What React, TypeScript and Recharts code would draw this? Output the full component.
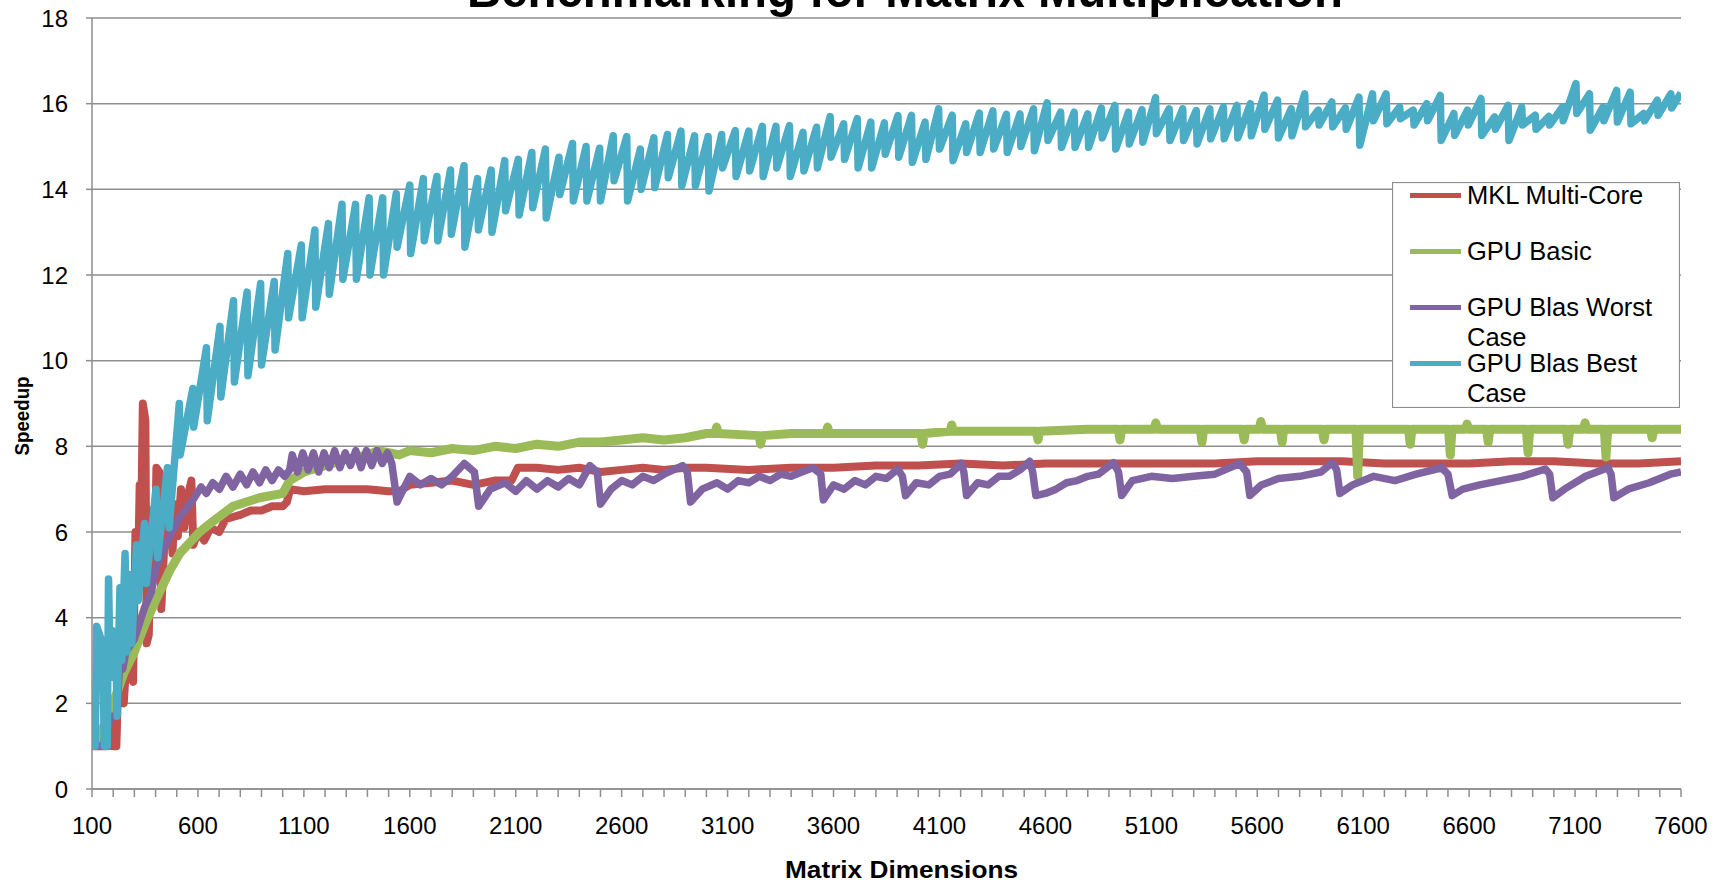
import { LineChart, Line, XAxis, YAxis, CartesianGrid, Legend, Label } from "recharts";

const FONT = '"Liberation Sans", Arial, sans-serif';
const GRID = "#8e8e8e";

const MKL_COLOR = "#C0504D";
const BASIC_COLOR = "#9BBB59";
const WORST_COLOR = "#8064A2";
const BEST_COLOR = "#4BACC6";

// [matrix dimension, speedup]
const mklMultiCore: [number, number][] = [
  [100, 1.0], [176, 1.0], [190, 1.6], [200, 1.0], [215, 1.0], [222, 2.2], [250, 2.0], [262, 3.0], [270, 5.0], [282, 2.6],
  [294, 2.5], [305, 6.0], [318, 5.2], [325, 7.1], [333, 6.5], [340, 9.0], [352, 8.6], [358, 3.4], [368, 3.6], [380, 6.5],
  [395, 5.0], [404, 7.5], [418, 7.4], [427, 4.2], [443, 5.9], [451, 7.05], [467, 6.6], [480, 5.5], [490, 6.65], [505, 5.9],
  [520, 7.0], [535, 6.1], [550, 6.8], [569, 7.2], [578, 5.7], [600, 6.0], [630, 5.8], [660, 6.1], [700, 6.0], [730, 6.3],
  [765, 6.35], [800, 6.4], [850, 6.5], [900, 6.5], [950, 6.6], [1000, 6.6], [1020, 6.7], [1035, 7.0], [1100, 6.95], [1200, 7.0],
  [1300, 7.0], [1400, 7.0], [1500, 6.95], [1550, 6.95], [1600, 7.1], [1700, 7.15], [1800, 7.2], [1900, 7.1], [2000, 7.2], [2080, 7.2],
  [2110, 7.5], [2200, 7.5], [2300, 7.45], [2400, 7.5], [2500, 7.4], [2600, 7.45], [2700, 7.5], [2800, 7.45], [2900, 7.5], [3000, 7.5],
  [3200, 7.45], [3400, 7.5], [3600, 7.5], [3800, 7.55], [4000, 7.55], [4200, 7.6], [4400, 7.55], [4600, 7.6], [4800, 7.6], [5000, 7.6],
  [5200, 7.6], [5400, 7.6], [5600, 7.65], [5800, 7.65], [6000, 7.65], [6200, 7.6], [6400, 7.6], [6600, 7.6], [6800, 7.65], [7000, 7.65],
  [7200, 7.6], [7400, 7.6], [7600, 7.65],
];

const gpuBasic: [number, number][] = [
  [100, 1.0], [150, 1.4], [200, 2.0], [250, 2.7], [300, 3.2], [350, 3.85], [400, 4.4], [467, 5.1], [514, 5.5], [561, 5.75],
  [608, 6.0], [671, 6.25], [765, 6.6], [891, 6.8], [1000, 6.9], [1033, 7.2], [1100, 7.4], [1200, 7.55], [1300, 7.7], [1400, 7.8],
  [1450, 7.9], [1500, 7.85], [1550, 7.8], [1600, 7.9], [1700, 7.85], [1800, 7.95], [1900, 7.9], [2000, 8.0], [2100, 7.95], [2200, 8.05],
  [2300, 8.0], [2400, 8.1], [2500, 8.1], [2600, 8.15], [2700, 8.2], [2800, 8.15], [2900, 8.2], [3000, 8.3], [3040, 8.3], [3048, 8.45],
  [3056, 8.3], [3248, 8.25], [3256, 8.05], [3264, 8.25], [3400, 8.3], [3564, 8.3], [3572, 8.45], [3580, 8.3], [3800, 8.3], [4012, 8.3],
  [4020, 8.05], [4028, 8.3], [4150, 8.35], [4158, 8.5], [4166, 8.35], [4400, 8.35], [4557, 8.35], [4565, 8.15], [4573, 8.35], [4800, 8.4],
  [4944, 8.4], [4952, 8.15], [4960, 8.4], [5113, 8.4], [5121, 8.55], [5129, 8.4], [5331, 8.4], [5339, 8.1], [5347, 8.4], [5530, 8.4],
  [5538, 8.15], [5546, 8.4], [5609, 8.4], [5617, 8.58], [5625, 8.4], [5709, 8.4], [5717, 8.1], [5725, 8.4], [5907, 8.4], [5915, 8.15],
  [5923, 8.4], [6066, 8.4], [6074, 7.3], [6082, 8.4], [6314, 8.4], [6322, 8.05], [6330, 8.4], [6503, 8.4], [6511, 7.8], [6519, 8.4],
  [6582, 8.4], [6590, 8.52], [6598, 8.4], [6682, 8.4], [6690, 8.1], [6698, 8.4], [6870, 8.4], [6878, 7.85], [6886, 8.4], [7059, 8.4],
  [7067, 8.05], [7075, 8.4], [7139, 8.4], [7147, 8.55], [7155, 8.4], [7238, 8.4], [7246, 7.75], [7254, 8.4], [7456, 8.4], [7464, 8.2],
  [7472, 8.4], [7600, 8.4],
];

const gpuBlasWorst: [number, number][] = [
  [100, 1.0], [150, 1.0], [190, 1.7], [215, 1.7], [231, 2.9], [245, 2.8], [260, 3.2], [300, 3.5], [349, 4.25], [380, 4.6],
  [404, 5.2], [467, 5.9], [514, 6.35], [577, 6.75], [615, 7.05], [640, 6.9], [670, 7.15], [702, 7.0], [733, 7.3], [765, 7.05],
  [800, 7.35], [830, 7.1], [860, 7.4], [891, 7.15], [920, 7.45], [950, 7.2], [980, 7.45], [1010, 7.3], [1033, 7.45], [1045, 7.8],
  [1070, 7.4], [1095, 7.85], [1120, 7.45], [1145, 7.85], [1170, 7.4], [1195, 7.85], [1220, 7.5], [1245, 7.9], [1270, 7.5], [1295, 7.85],
  [1320, 7.55], [1345, 7.9], [1370, 7.5], [1395, 7.9], [1420, 7.55], [1445, 7.9], [1470, 7.6], [1495, 7.85], [1515, 7.6], [1540, 6.7],
  [1600, 7.3], [1650, 7.1], [1700, 7.25], [1750, 7.1], [1800, 7.3], [1857, 7.6], [1905, 7.4], [1925, 6.6],
  [1980, 7.0], [2050, 7.15], [2100, 6.95], [2150, 7.2], [2200, 7.0], [2250, 7.2], [2300, 7.05], [2350, 7.25], [2400, 7.1], [2450, 7.55], [2485, 7.4], [2500, 6.65],
  [2550, 7.0], [2600, 7.2], [2650, 7.1], [2700, 7.3], [2750, 7.2], [2800, 7.35], [2888, 7.55], [2910, 7.4], [2925, 6.7],
  [2980, 7.0], [3050, 7.15], [3100, 7.0], [3150, 7.2], [3200, 7.15], [3250, 7.3], [3300, 7.2], [3350, 7.35], [3400, 7.3], [3450, 7.4], [3503, 7.5], [3540, 7.35], [3552, 6.75],
  [3600, 7.1], [3650, 7.0], [3700, 7.2], [3750, 7.1], [3800, 7.3], [3850, 7.25], [3903, 7.47], [3925, 7.3], [3940, 6.85],
  [3990, 7.15], [4050, 7.1], [4100, 7.3], [4150, 7.35], [4203, 7.6], [4215, 7.4], [4228, 6.85],
  [4280, 7.15], [4330, 7.1], [4380, 7.3], [4430, 7.3], [4480, 7.45], [4526, 7.65], [4540, 7.4], [4555, 6.85],
  [4600, 6.9], [4650, 7.0], [4700, 7.15], [4750, 7.2], [4800, 7.3], [4850, 7.35], [4922, 7.62], [4945, 7.4], [4960, 6.85],
  [5010, 7.2], [5100, 7.3], [5200, 7.25], [5300, 7.3], [5400, 7.35], [5516, 7.6], [5550, 7.4], [5565, 6.85],
  [5620, 7.1], [5700, 7.25], [5800, 7.3], [5900, 7.4], [5955, 7.62], [5975, 7.45], [5990, 6.9],
  [6050, 7.1], [6150, 7.3], [6250, 7.2], [6350, 7.35], [6470, 7.5], [6500, 7.35], [6520, 6.85],
  [6570, 7.0], [6650, 7.1], [6750, 7.2], [6850, 7.3], [6960, 7.47], [6980, 7.35], [6995, 6.8],
  [7050, 7.0], [7150, 7.3], [7255, 7.5], [7270, 7.35], [7283, 6.8],
  [7350, 7.0], [7450, 7.15], [7550, 7.35], [7600, 7.4],
];

// best case: irregular start, then one sawtooth per 64-wide block from 512 on
const gpuBlasBestStart: [number, number][] = [
  [100, 1.0], [115, 1.0], [122, 3.8], [150, 3.4], [158, 1.0], [172, 1.0], [178, 4.9], [186, 2.6], [196, 3.7], [212, 3.6],
  [218, 1.7], [232, 4.7], [240, 3.0], [256, 5.5], [264, 3.2], [280, 5.0], [288, 3.4], [310, 5.7], [318, 4.4], [348, 6.2],
  [356, 4.8], [402, 7.0], [410, 5.4], [456, 7.5], [464, 6.1],
];
const bestPeaks = [
  9.0, 9.35, 10.3, 10.8, 11.4, 11.6, 11.8, 11.85,
  12.5, 12.7, 13.05, 13.2, 13.65, 13.65, 13.8, 13.8,
  13.9, 14.1, 14.25, 14.3, 14.45, 14.55, 14.25, 14.45,
  14.67, 14.7, 14.86, 14.94, 14.75, 15.07, 15.0, 14.96,
  15.25, 15.23, 14.94, 15.2, 15.28, 15.36, 15.25, 15.23,
  15.28, 15.37, 15.36, 15.47, 15.47, 15.49, 15.33, 15.45,
  15.7, 15.53, 15.65, 15.57, 15.55, 15.72, 15.73, 15.57,
  15.88, 15.73, 15.53, 15.78, 15.83, 15.75, 15.76, 15.88,
  16.02, 15.8, 15.8, 15.76, 15.9, 15.96, 15.8, 15.86,
  16.14, 15.88, 15.88, 15.84, 15.88, 15.92, 15.96, 16.0,
  16.2, 16.08, 15.88, 16.23, 15.85, 16.04, 15.9, 16.15,
  16.23, 16.23, 15.92, 15.85, 16.0, 16.19, 15.77, 15.85,
  16.12, 15.69, 15.96, 15.92, 15.73, 15.7, 15.92, 16.47,
  16.23, 15.92, 16.31, 16.27, 15.77, 16.08, 16.23,
];
const bestTroughs = [
  7.8, 8.45, 8.6, 9.15, 9.5, 9.65, 9.9, 10.25,
  11.0, 11.0, 11.25, 11.55, 11.9, 11.9, 12.0, 12.0,
  12.65, 12.5, 12.8, 12.8, 12.95, 12.65, 13.05, 13.0,
  13.5, 13.4, 13.57, 13.33, 13.88, 13.73, 13.73, 13.73,
  14.2, 13.73, 14.0, 14.04, 14.27, 14.08, 14.08, 13.96,
  14.5, 14.3, 14.43, 14.3, 14.5, 14.3, 14.43, 14.5,
  14.75, 14.7, 14.5, 14.5, 14.82, 14.75, 14.63, 14.7,
  14.94, 14.67, 14.86, 14.86, 14.94, 14.86, 15.0, 14.9,
  15.14, 14.98, 14.98, 14.98, 15.2, 14.94, 15.06, 15.1,
  15.3, 15.14, 15.14, 15.06, 15.18, 15.18, 15.2, 15.25,
  15.4, 15.2, 15.25, 15.46, 15.5, 15.46, 15.4, 15.03,
  15.6, 15.53, 15.65, 15.5, 15.6, 15.14, 15.26, 15.5,
  15.26, 15.4, 15.14, 15.5, 15.4, 15.5, 15.6, 15.77,
  15.38, 15.6, 15.57, 15.53, 15.6, 15.73, 15.9,
];
const bestToothDims = bestPeaks.map((_, i) => 512 + 64 * i);
const bestEnd: [number, number] = [7600, 16.25];

const yTicks = [0, 2, 4, 6, 8, 10, 12, 14, 16, 18];
const xLabelEvery = 500;
const xTicks = Array.from({ length: 76 }, (_, i) => 100 + 100 * i);

const toRows = (pairs: [number, number][]) => pairs.map(([x, y]) => ({ x, y }));
const mklData = toRows(mklMultiCore);
const basicData = toRows(gpuBasic);
const worstData = toRows(gpuBlasWorst);
const bestData = [
  ...toRows(gpuBlasBestStart),
  ...bestToothDims.flatMap((x, i) => [
    { x, y: bestPeaks[i] },
    { x: x + 4, y: bestTroughs[i] },
  ]),
  { x: bestEnd[0], y: bestEnd[1] },
];

const legendRows = [
  { label: ["MKL Multi-Core"], color: MKL_COLOR },
  { label: ["GPU Basic"], color: BASIC_COLOR },
  { label: ["GPU Blas Worst", "Case"], color: WORST_COLOR },
  { label: ["GPU Blas Best", "Case"], color: BEST_COLOR },
];

function LegendBox() {
  return (
    <svg width={288} height={226} style={{ display: "block" }}>
      <rect x={0.5} y={0.5} width={287} height={225} fill="#fff" stroke={GRID} strokeWidth={1.2} />
      {legendRows.map((row, i) => {
        const cy = 13.6 + 56 * i;
        return (
          <g key={row.color}>
            <line x1={18} x2={69} y1={cy} y2={cy} stroke={row.color} strokeWidth={5} />
            {row.label.map((t, j) => (
              <text key={t} x={75} y={cy + 8.5 + 30 * j} fontSize={25.5} fontFamily={FONT} fill="#000">
                {t}
              </text>
            ))}
          </g>
        );
      })}
    </svg>
  );
}

function XTitle({ viewBox }: any) {
  const { x, y, width } = viewBox;
  return (
    <text x={x + width / 2 + 15} y={y + 89} textAnchor="middle" fontSize={24.5} fontWeight="bold"
      fontFamily={FONT} textLength={233} lengthAdjust="spacingAndGlyphs" fill="#000">
      Matrix Dimensions
    </text>
  );
}

function YTitle({ viewBox }: any) {
  const { y, height } = viewBox;
  const cy = y + height / 2 + 12.5;
  return (
    <text x={29} y={cy} transform={`rotate(-90 29 ${cy})`} textAnchor="middle" fontSize={20.5} fontWeight="bold"
      fontFamily={FONT} textLength={79} lengthAdjust="spacingAndGlyphs" fill="#000">
      Speedup
    </text>
  );
}

export default function App() {
  const tickStyle = { fontSize: 24, fill: "#000", fontFamily: FONT };
  return (
    <div style={{ position: "absolute", left: 0, top: 0, width: 1723, height: 882, background: "#fff", overflow: "hidden" }}>
      <LineChart width={1723} height={882} margin={{ top: 18, right: 42, left: 0, bottom: 0 }}>
        <CartesianGrid vertical={false} stroke={GRID} strokeWidth={1.5} />
        <XAxis
          type="number"
          dataKey="x"
          domain={[100, 7600]}
          ticks={xTicks}
          interval={0}
          allowDataOverflow
          height={93}
          tickSize={8}
          tickMargin={20}
          stroke={GRID}
          strokeWidth={1.5}
          tick={tickStyle}
          tickFormatter={(v: number) => ((v - 100) % xLabelEvery === 0 ? String(v) : "")}
          label={<Label content={XTitle} />}
        />
        <YAxis
          type="number"
          domain={[0, 18]}
          ticks={yTicks}
          interval={0}
          width={92}
          tickSize={6}
          tickMargin={18}
          stroke={GRID}
          strokeWidth={1.5}
          tick={tickStyle}
          label={<Label content={YTitle} />}
        />
        <Legend
          layout="vertical"
          align="center"
          verticalAlign="middle"
          content={LegendBox}
          wrapperStyle={{ left: 1392, top: 182, width: 288, height: 226 }}
        />
        <Line data={mklData} dataKey="y" name="MKL Multi-Core" stroke={MKL_COLOR} strokeWidth={8}
          dot={false} isAnimationActive={false} strokeLinejoin="round" />
        <Line data={basicData} dataKey="y" name="GPU Basic" stroke={BASIC_COLOR} strokeWidth={9}
          dot={false} isAnimationActive={false} strokeLinejoin="round" />
        <Line data={worstData} dataKey="y" name="GPU Blas Worst Case" stroke={WORST_COLOR} strokeWidth={7.5}
          dot={false} isAnimationActive={false} strokeLinejoin="round" />
        <Line data={bestData} dataKey="y" name="GPU Blas Best Case" stroke={BEST_COLOR} strokeWidth={7.5}
          dot={false} isAnimationActive={false} strokeLinejoin="round" />
      </LineChart>
      <svg width={1723} height={882} style={{ position: "absolute", left: 0, top: 0, pointerEvents: "none" }}>
        <text x={905} y={7} textAnchor="middle" fontSize={50} fontWeight="bold" fontFamily={FONT}
          textLength={876} lengthAdjust="spacingAndGlyphs" fill="#000">
          Benchmarking for Matrix Multiplication
        </text>
      </svg>
    </div>
  );
}
